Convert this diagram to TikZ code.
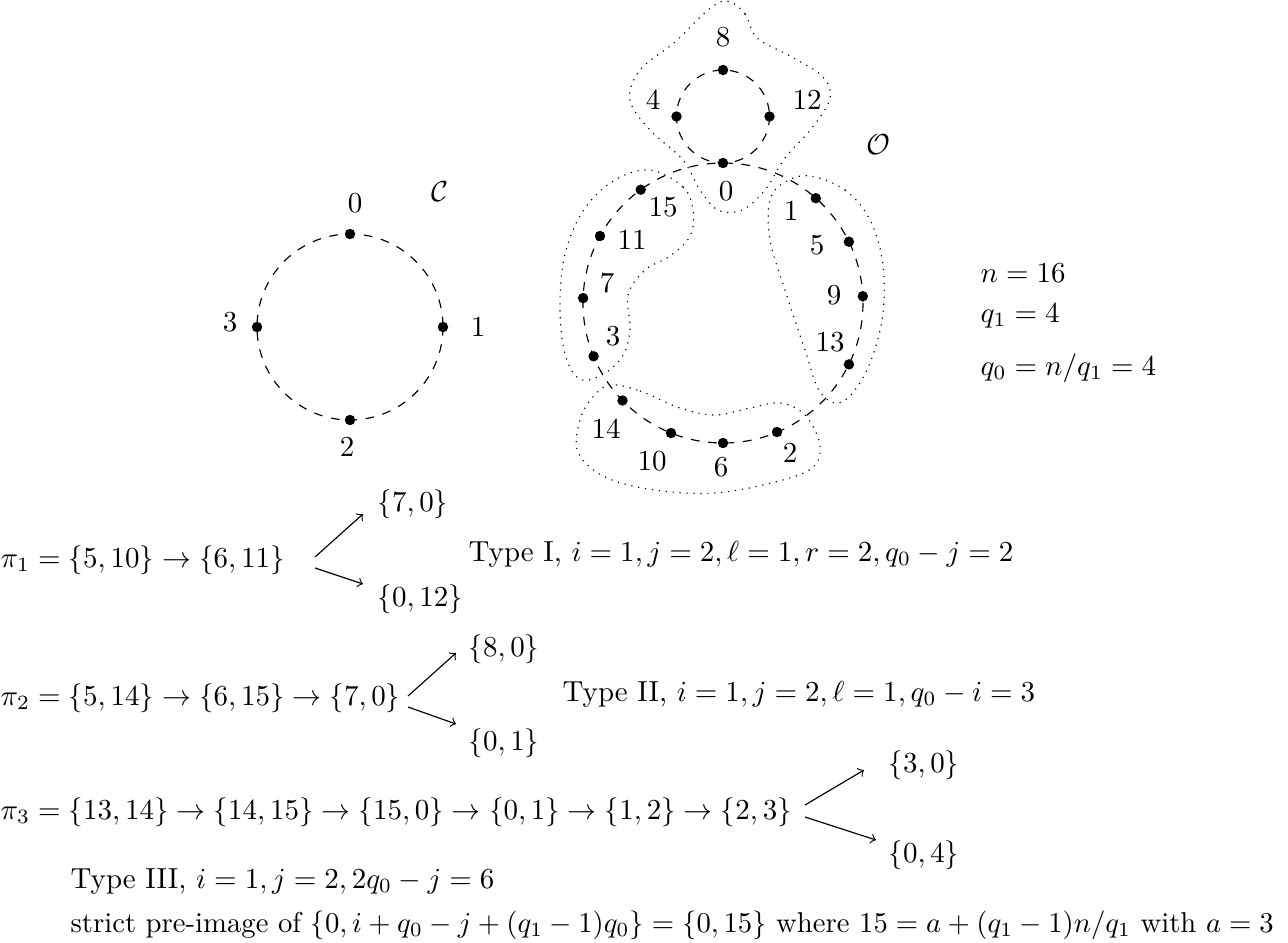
\documentclass[tikz,border=0pt]{standalone}
\usepackage{amsmath}
\begin{document}
\begin{tikzpicture}[x=0.345pt,y=-0.345pt,
  dot/.style={circle,fill=black,inner sep=0pt,minimum size=3.6pt},
  lbl/.style={inner sep=0pt},
  txt/.style={inner sep=0pt,anchor=base west},
  cyc/.style={dashed},
  blob/.style={dotted},
  arr/.style={->}]
\useasboundingbox (0,0) rectangle (1288,942);

% ---------- cycle C ----------
\draw[cyc] (350,327) circle[radius=93];
\node[dot] (c0) at (350,234) {};
\node[dot] (c1) at (443,327) {};
\node[dot] (c2) at (350,420) {};
\node[dot] (c3) at (257,327) {};
\node[lbl] (lc0) at (355,203) {$0$};
\node[lbl] (lc1) at (478,327) {$1$};
\node[lbl] (lc2) at (347,447) {$2$};
\node[lbl] (lc3) at (230,322) {$3$};
\node[lbl] (lC) at (440,192) {$\mathcal{C}$};

% ---------- cycle O ----------
\draw[cyc] (723,303) circle[radius=140];
\draw[cyc] (723,116.5) circle[radius=46.5];
\node[dot] (o0) at (723,163) {};
\node[dot] (o8) at (723,70) {};
\node[dot] (o4) at (676.5,116.5) {};
\node[dot] (o12) at (769.5,116.5) {};
\node[dot] (o15) at (640.7,189.7) {};
\node[dot] (o11) at (600,236) {};
\node[dot] (o7) at (583.1,298.1) {};
\node[dot] (o3) at (593.6,356.3) {};
\node[dot] (o14) at (622.5,400.5) {};
\node[dot] (o10) at (671,433) {};
\node[dot] (o6) at (723,443) {};
\node[dot] (o2) at (777,432) {};
\node[dot] (o13) at (848.9,364.4) {};
\node[dot] (o9) at (862.8,296.2) {};
\node[dot] (o5) at (848.9,241.7) {};
\node[dot] (o1) at (815.8,198.2) {};

\node[lbl] (lo8) at (723,37) {$8$};
\node[lbl] (lo4) at (653,100) {$4$};
\node[lbl] (lo12) at (807,100) {$12$};
\node[lbl] (lo0) at (726,191) {$0$};
\node[lbl] (lo15) at (663,207) {$15$};
\node[lbl] (lo11) at (632,240) {$11$};
\node[lbl] (lo7) at (607,283) {$7$};
\node[lbl] (lo3) at (613,336) {$3$};
\node[lbl] (lo14) at (606,429) {$14$};
\node[lbl] (lo10) at (652,461) {$10$};
\node[lbl] (lo6) at (721,467) {$6$};
\node[lbl] (lo2) at (790,453) {$2$};
\node[lbl] (lo13) at (830,342) {$13$};
\node[lbl] (lo9) at (834,295) {$9$};
\node[lbl] (lo5) at (817,245) {$5$};
\node[lbl] (lo1) at (791,211) {$1$};
\node[lbl] (lO) at (878,145) {$\mathcal{O}$};

% ---------- dotted blobs ----------
\draw[blob] plot[smooth cycle,tension=0.6] coordinates {
  (727,1) (745,14) (757,38) (790,56) (822,76) (830,98) (812,128) (785,158)
  (765,190) (742,210) (718,210) (700,190) (683,160) (650,130) (630,100)
  (640,70) (675,42) (708,10)};
\draw[blob] plot[smooth cycle,tension=0.6] coordinates {
  (650,170) (683,187) (693,210) (690,236) (670,256) (645,270) (628,295)
  (630,330) (622,357) (600,376) (578,378) (564,350) (560,300) (566,250)
  (585,208) (615,180)};
\draw[blob] plot[smooth cycle,tension=0.6] coordinates {
  (810,176) (845,190) (870,220) (883,265) (882,320) (866,372) (842,402)
  (820,392) (805,350) (785,290) (770,240) (770,200) (785,182)};
\draw[blob] plot[smooth cycle,tension=0.6] coordinates {
  (610,385) (640,391) (680,408) (715,415) (750,408) (780,403) (805,415)
  (820,445) (812,468) (775,482) (715,493) (655,490) (605,477) (578,452)
  (580,420) (592,398)};

% ---------- parameters ----------
\node[txt] (pn) at (980,282) {$n=16$};
\node[txt] (pq1) at (980,322) {$q_1=4$};
\node[txt] (pq0) at (980,375) {$q_0=n/q_1=4$};

% ---------- pi_1 ----------
\node[txt] (p1) at (0,567) {$\pi_1=\{5,10\}\to\{6,11\}$};
\node[txt] (p1a) at (377,511) {$\{7,0\}$};
\node[txt] (p1b) at (377,606) {$\{0,12\}$};
\node[txt] (t1) at (468,561) {Type I, $i=1,j=2,\ell=1,r=2,q_0-j=2$};
\coordinate (p1s1) at (315,557);
\coordinate (p1s2) at (315,568);
\coordinate (p1e1) at (363,514);
\coordinate (p1e2) at (363,584);
\draw[arr] (p1s1) -- (p1e1);
\draw[arr] (p1s2) -- (p1e2);

% ---------- pi_2 ----------
\node[txt] (p2) at (0,705) {$\pi_2=\{5,14\}\to\{6,15\}\to\{7,0\}$};
\node[txt] (p2a) at (468,656) {$\{8,0\}$};
\node[txt] (p2b) at (468,750) {$\{0,1\}$};
\node[txt] (t2) at (562,701) {Type II, $i=1,j=2,\ell=1,q_0-i=3$};
\coordinate (p2s1) at (408,696);
\coordinate (p2s2) at (408,707);
\coordinate (p2e1) at (456,653);
\coordinate (p2e2) at (456,724);
\draw[arr] (p2s1) -- (p2e1);
\draw[arr] (p2s2) -- (p2e2);

% ---------- pi_3 ----------
\node[txt] (p3) at (0,819) {$\pi_3=\{13,14\}\to\{14,15\}\to\{15,0\}\to\{0,1\}\to\{1,2\}\to\{2,3\}$};
\node[txt] (p3a) at (888,772) {$\{3,0\}$};
\node[txt] (p3b) at (888,862) {$\{0,4\}$};
\coordinate (p3s1) at (805,805);
\coordinate (p3s2) at (805,817);
\coordinate (p3e1) at (864,770);
\coordinate (p3e2) at (876,840);
\draw[arr] (p3s1) -- (p3e1);
\draw[arr] (p3s2) -- (p3e2);

\node[txt] (t3) at (70,888) {Type III, $i=1,j=2,2q_0-j=6$};
\node[txt,scale=0.99,transform shape] (t4) at (70,932) {strict pre-image of $\{0,i+q_0-j+(q_1-1)q_0\}=\{0,15\}$ where $15=a+(q_1-1)n/q_1$ with $a=3$};
\end{tikzpicture}
\end{document}
